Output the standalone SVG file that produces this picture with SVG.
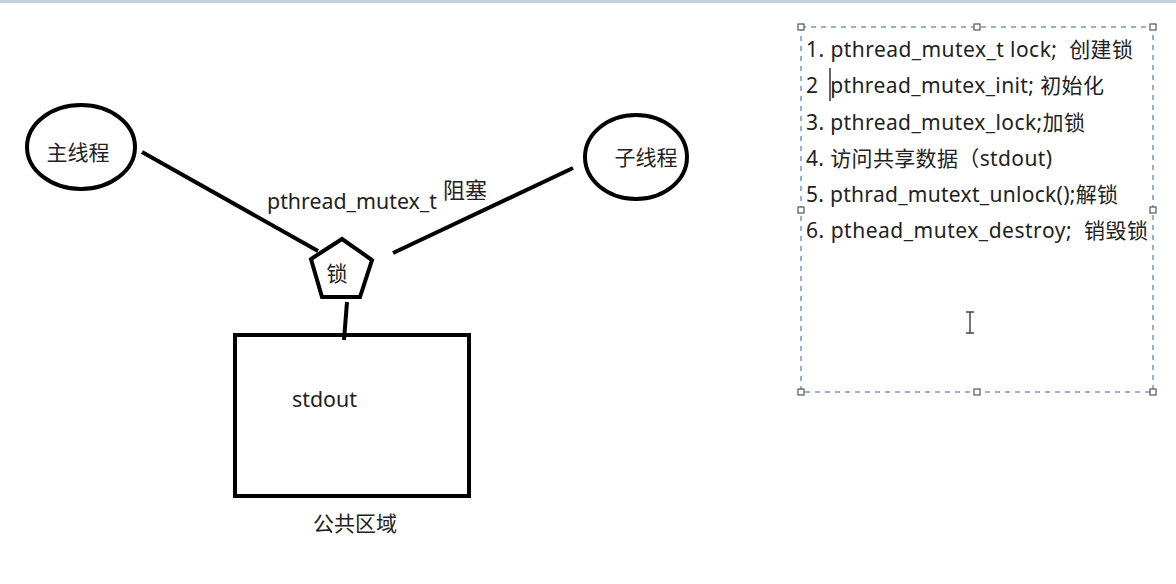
<svg xmlns="http://www.w3.org/2000/svg" width="1176" height="584" viewBox="0 0 1176 584">
<style>
.t{font-family:"Noto Sans","Noto Sans CJK SC",sans-serif;fill:#222;}
.s{fill:none;stroke:#000;stroke-width:4;}
.h{fill:#fff;stroke:#555;stroke-width:1.2;}
.st{font-size:21px;}
</style>
<rect x="0" y="0" width="1176" height="584" fill="#fff"/>
<rect x="0" y="0" width="1176" height="3" fill="#c8cde0"/>
<g id="connectors">
<line class="s" x1="142" y1="152" x2="318" y2="251"/>
<line class="s" x1="573" y1="168" x2="393" y2="253"/>
<line class="s" x1="347" y1="302" x2="344" y2="340"/>
</g>
<g id="main-thread">
<ellipse class="s" cx="81" cy="147" rx="54" ry="42"/>
<text class="t" x="78" y="160" font-size="21" text-anchor="middle">主线程</text>
</g>
<g id="child-thread">
<ellipse class="s" cx="636" cy="157" rx="51" ry="42"/>
<text class="t" x="646" y="165" font-size="21" text-anchor="middle">子线程</text>
</g>
<g id="lock">
<polygon class="s" points="342,239 372,260 360,297 322,297 311,259"/>
<text class="t" x="337" y="281" font-size="21" text-anchor="middle">锁</text>
</g>
<g id="labels">
<text class="t" x="267" y="209" font-size="21" textLength="170" lengthAdjust="spacingAndGlyphs">pthread_mutex_t</text>
<text class="t" x="443" y="198" font-size="22">阻塞</text>
</g>
<g id="stdout">
<rect class="s" x="235" y="335" width="234" height="161"/>
<text class="t" x="292" y="407" font-size="21" textLength="65" lengthAdjust="spacingAndGlyphs">stdout</text>
<text class="t" x="355" y="531" font-size="21" text-anchor="middle">公共区域</text>
</g>
<g id="steps">
<rect x="801" y="27" width="352" height="365" fill="none" stroke="#6c9bd2" stroke-width="1.5" stroke-dasharray="5,5"/>
<rect class="h" x="798" y="24" width="6" height="6"/>
<rect class="h" x="974" y="24" width="6" height="6"/>
<rect class="h" x="1150" y="24" width="6" height="6"/>
<rect class="h" x="798" y="207" width="6" height="6"/>
<rect class="h" x="1150" y="207" width="6" height="6"/>
<rect class="h" x="798" y="389" width="6" height="6"/>
<rect class="h" x="974" y="389" width="6" height="6"/>
<rect class="h" x="1150" y="389" width="6" height="6"/>
<text class="t st" x="806" y="57" xml:space="preserve" textLength="327" lengthAdjust="spacing">1. pthread_mutex_t lock;  创建锁</text>
<text class="t st" x="806" y="93" xml:space="preserve" textLength="298" lengthAdjust="spacing">2  pthread_mutex_init; 初始化</text>
<text class="t st" x="806" y="130" textLength="279" lengthAdjust="spacing">3. pthread_mutex_lock;加锁</text>
<text class="t st" x="806" y="166" textLength="246" lengthAdjust="spacing">4. 访问共享数据（stdout)</text>
<text class="t st" x="806" y="202" textLength="312" lengthAdjust="spacing">5. pthrad_mutext_unlock();解锁</text>
<text class="t st" x="806" y="238" xml:space="preserve" textLength="342" lengthAdjust="spacing">6. pthead_mutex_destroy;  销毁锁</text>
<line x1="830" y1="68" x2="830" y2="101" stroke="#333" stroke-width="1.5"/>
<path d="M966,312h8M966,333h8M970,312v21" fill="none" stroke="#444" stroke-width="1.5"/>
</g>
</svg>
